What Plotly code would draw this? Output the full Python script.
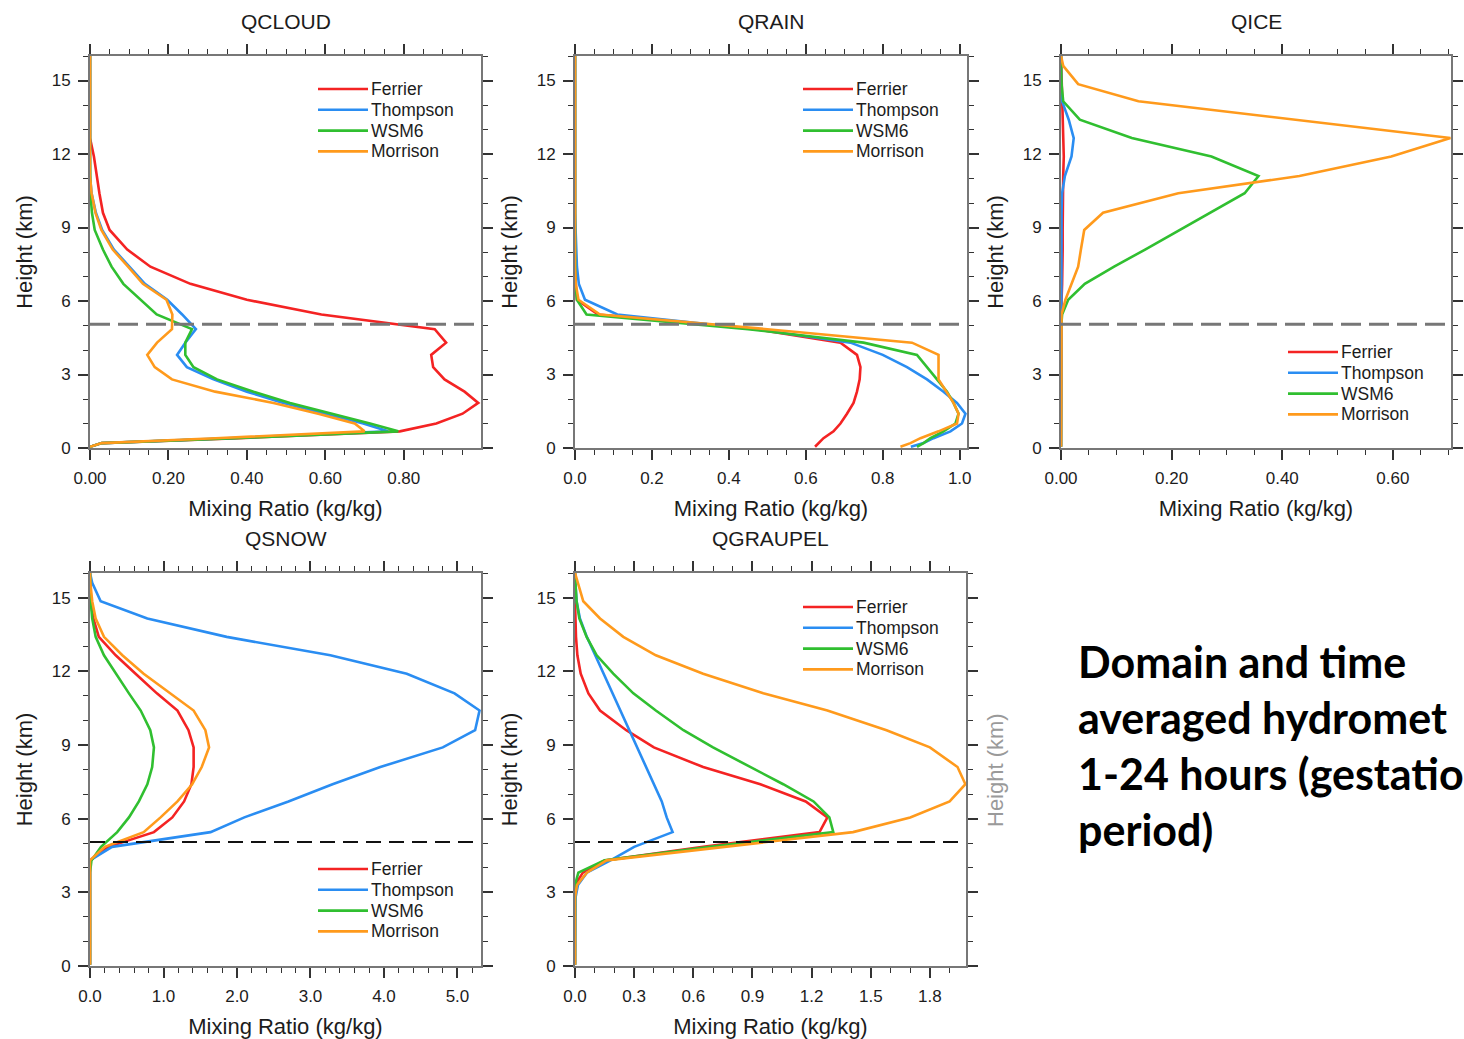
import plotly.graph_objects as go

# Canvas size in pixels
W, H = 1464, 1039

# Model levels (km) shared by all profiles
HEIGHT_KM = [0.05, 0.2, 0.4, 0.68, 1.0, 1.4, 1.84, 2.3, 2.8, 3.3, 3.8, 4.3, 4.85,
             5.45, 6.05, 6.7, 7.4, 8.1, 8.9, 9.6, 10.4, 11.1, 11.9, 12.65, 13.4,
             14.15, 14.85, 15.6, 16.0]

SCHEMES = ["Ferrier", "Thompson", "WSM6", "Morrison"]
COLORS = ["#f42323", "#2a8df2", "#30bf30", "#ff9a1c"]

# ---- QCLOUD (kg/kg) ----
QCLOUD_FERRIER = [0.0, 0.03, 0.38, 0.79, 0.883, 0.95, 0.99, 0.955, 0.904, 0.875, 0.87, 0.908, 0.879,
                  0.59, 0.40, 0.256, 0.154, 0.095, 0.05, 0.033, 0.024, 0.018, 0.01, 0, 0, 0, 0, 0, 0]
QCLOUD_THOMPSON = [0.0, 0.03, 0.35, 0.76, 0.697, 0.603, 0.493, 0.40, 0.315, 0.247, 0.222, 0.243, 0.27,
                   0.235, 0.197, 0.14, 0.10, 0.061, 0.031, 0.015, 0.004, 0, 0, 0, 0, 0, 0, 0, 0]
QCLOUD_WSM6 = [0.0, 0.03, 0.37, 0.786, 0.714, 0.62, 0.51, 0.417, 0.324, 0.264, 0.243, 0.243, 0.26,
               0.17, 0.129, 0.085, 0.055, 0.033, 0.012, 0.005, 0.001, 0, 0, 0, 0, 0, 0, 0, 0]
QCLOUD_MORRISON = [0.0, 0.03, 0.32, 0.70, 0.675, 0.582, 0.468, 0.319, 0.209, 0.165, 0.146, 0.171, 0.209,
                   0.21, 0.195, 0.135, 0.097, 0.058, 0.029, 0.014, 0.004, 0, 0, 0, 0, 0, 0, 0, 0]

# ---- QRAIN (kg/kg) ----
QRAIN_FERRIER = [0.624, 0.633, 0.646, 0.672, 0.69, 0.707, 0.724, 0.733, 0.74, 0.742, 0.733, 0.69, 0.47,
                 0.06, 0.005, 0.002, 0.001, 0, 0, 0, 0, 0, 0, 0, 0, 0, 0, 0, 0]
QRAIN_THOMPSON = [0.873, 0.906, 0.932, 0.976, 1.006, 1.015, 0.993, 0.958, 0.915, 0.863, 0.80, 0.716, 0.47,
                  0.11, 0.026, 0.01, 0.005, 0.003, 0.001, 0, 0, 0, 0, 0, 0, 0, 0, 0, 0]
QRAIN_WSM6 = [0.889, 0.906, 0.924, 0.958, 0.989, 0.997, 0.984, 0.967, 0.941, 0.915, 0.889, 0.75, 0.45,
              0.03, 0.005, 0.001, 0, 0, 0, 0, 0, 0, 0, 0, 0, 0, 0, 0, 0]
QRAIN_MORRISON = [0.846, 0.872, 0.898, 0.945, 0.993, 0.997, 0.984, 0.965, 0.945, 0.945, 0.945, 0.876, 0.50,
                  0.065, 0.009, 0.002, 0, 0, 0, 0, 0, 0, 0, 0, 0, 0, 0, 0, 0]

# ---- QICE (kg/kg) ----
QICE_FERRIER = [0] * 13 + [0, 0.001, 0.002, 0.003, 0.003, 0.003, 0.003, 0.003, 0.004, 0.005,
                           0.004, 0.003, 0.002, 0.001, 0, 0]
QICE_THOMPSON = [0] * 13 + [0, 0.001, 0.001, 0.001, 0.001, 0.001, 0.001, 0.002, 0.007, 0.019,
                            0.023, 0.014, 0.002, 0, 0, 0]
QICE_WSM6 = [0] * 13 + [0.002, 0.013, 0.043, 0.096, 0.152, 0.215, 0.27, 0.332, 0.357, 0.272,
                        0.128, 0.034, 0.004, 0.001, 0, 0]
QICE_MORRISON = [0] * 13 + [0.001, 0.008, 0.019, 0.031, 0.036, 0.042, 0.076, 0.212, 0.431, 0.597,
                            0.704, 0.42, 0.14, 0.031, 0.004, 0]

# ---- QSNOW (kg/kg) ----
QSNOW_FERRIER = [0] * 11 + [0.0, 0.25, 0.87, 1.12, 1.28, 1.38, 1.41, 1.41, 1.34, 1.19, 0.91, 0.62,
                            0.35, 0.12, 0.045, 0.01, 0, 0]
QSNOW_THOMPSON = [0] * 11 + [0.0, 0.30, 1.64, 2.1, 2.7, 3.3, 3.95, 4.8, 5.24, 5.30, 4.96, 4.31,
                             3.27, 1.86, 0.78, 0.145, 0.03, 0]
QSNOW_WSM6 = [0] * 11 + [0.02, 0.15, 0.37, 0.53, 0.665, 0.78, 0.846, 0.87, 0.82, 0.69, 0.53, 0.35,
                         0.19, 0.077, 0.03, 0.01, 0, 0]
QSNOW_MORRISON = [0] * 11 + [0.0, 0.2, 0.73, 0.96, 1.19, 1.39, 1.52, 1.62, 1.57, 1.41, 1.10, 0.73,
                             0.44, 0.19, 0.077, 0.03, 0.005, 0]

# ---- QGRAUPEL (kg/kg) ----
QGRAUPEL_FERRIER = [0] * 9 + [0.0, 0.04, 0.15, 0.65, 1.24, 1.28, 1.17, 0.94, 0.65, 0.40, 0.26, 0.127,
                              0.068, 0.029, 0.012, 0.005, 0.002, 0, 0, 0]
QGRAUPEL_THOMPSON = [0] * 8 + [0.003, 0.015, 0.06, 0.18, 0.30, 0.495, 0.465, 0.44, 0.40, 0.36, 0.315,
                               0.275, 0.23, 0.19, 0.145, 0.103, 0.06, 0.025, 0.008, 0.002, 0]
QGRAUPEL_WSM6 = [0] * 9 + [0.0, 0.017, 0.15, 0.685, 1.31, 1.29, 1.21, 1.056, 0.887, 0.70, 0.55, 0.41,
                           0.296, 0.194, 0.11, 0.059, 0.022, 0.008, 0.002, 0]
QGRAUPEL_MORRISON = [0] * 9 + [0.01, 0.06, 0.16, 0.75, 1.41, 1.70, 1.90, 1.98, 1.94, 1.80, 1.58, 1.28,
                               0.955, 0.65, 0.41, 0.245, 0.127, 0.042, 0.012, 0]

FREEZING_LEVEL_KM = 5.05

# Panel layout: pixel box (left, top, right, bottom), x range, ticks, legend anchor
PANELS = [
    dict(title="QCLOUD", box=(90, 56, 481, 448), xmax=0.997, dtick=0.2, minor=0.05, fmt=".2f",
         data=[QCLOUD_FERRIER, QCLOUD_THOMPSON, QCLOUD_WSM6, QCLOUD_MORRISON],
         legend=(318, 89), dash_color="#777777", dash_width=3, dash="20px,8px"),
    dict(title="QRAIN", box=(575, 56, 967, 448), xmax=1.019, dtick=0.2, minor=0.05, fmt=".1f",
         data=[QRAIN_FERRIER, QRAIN_THOMPSON, QRAIN_WSM6, QRAIN_MORRISON],
         legend=(803, 89), dash_color="#777777", dash_width=3, dash="20px,8px"),
    dict(title="QICE", box=(1061, 56, 1451, 448), xmax=0.705, dtick=0.2, minor=0.05, fmt=".2f",
         data=[QICE_FERRIER, QICE_THOMPSON, QICE_WSM6, QICE_MORRISON],
         legend=(1288, 352), dash_color="#777777", dash_width=3, dash="20px,8px"),
    dict(title="QSNOW", box=(90, 573, 481, 966), xmax=5.32, dtick=1.0, minor=0.2, fmt=".1f",
         data=[QSNOW_FERRIER, QSNOW_THOMPSON, QSNOW_WSM6, QSNOW_MORRISON],
         legend=(318, 869), dash_color="#111111", dash_width=2, dash="15px,8px"),
    dict(title="QGRAUPEL", box=(575, 573, 966, 966), xmax=1.983, dtick=0.3, minor=0.1, fmt=".1f",
         data=[QGRAUPEL_FERRIER, QGRAUPEL_THOMPSON, QGRAUPEL_WSM6, QGRAUPEL_MORRISON],
         legend=(803, 607), dash_color="#111111", dash_width=2, dash="15px,8px"),
]

NOTE_LINES = ["Domain and time", "averaged hydromet", "1-24 hours (gestatio", "period)"]


def fx(px):
    return px / W


def fy(py):
    return 1 - py / H


FONT = "Liberation Sans, Arial, Helvetica, sans-serif"
TEXT = "#1c1c1c"

fig = go.Figure()
layout = dict(
    template="none",
    width=W, height=H, margin=dict(l=0, r=0, t=0, b=0, autoexpand=False),
    paper_bgcolor="white", plot_bgcolor="white", showlegend=False,
    font=dict(family=FONT, color=TEXT),
)
shapes, annotations = [], []

for i, p in enumerate(PANELS, start=1):
    sfx = "" if i == 1 else str(i)
    l, t, r, b = p["box"]
    axis_common = dict(
        automargin=False,
        showline=True, linecolor="#777777", linewidth=2, mirror="allticks",
        ticks="outside", ticklen=10, tickwidth=1.5, tickcolor="#333333",
        showgrid=False, zeroline=False, layer="below traces",
        tickfont=dict(family=FONT, size=17, color=TEXT),
    )
    layout["xaxis" + sfx] = dict(
        axis_common, domain=[fx(l), fx(r)], anchor="y" + sfx, range=[0, p["xmax"]],
        tick0=0, dtick=p["dtick"], tickformat=p["fmt"], ticklabelstandoff=4,
        minor=dict(ticks="outside", ticklen=5, dtick=p["minor"], tick0=0, tickcolor="#333333", tickwidth=1.2),
        title=dict(text="Mixing Ratio (kg/kg)", font=dict(family=FONT, size=22, color=TEXT), standoff=13),
    )
    layout["yaxis" + sfx] = dict(
        axis_common, domain=[fy(b), fy(t)], anchor="x" + sfx, range=[0, 16],
        tick0=0, dtick=3, ticklabelstandoff=4,
        minor=dict(ticks="outside", ticklen=5, dtick=1, tick0=0, tickcolor="#333333", tickwidth=1.2),
        title=dict(text="Height (km)", font=dict(family=FONT, size=22, color=TEXT), standoff=13),
    )

    for name, color, values in zip(SCHEMES, COLORS, p["data"]):
        fig.add_trace(go.Scatter(
            x=values, y=HEIGHT_KM, mode="lines", name=name,
            line=dict(color=color, width=2.6),
            xaxis="x" + sfx, yaxis="y" + sfx,
        ))

    # freezing level
    shapes.append(dict(
        type="line", xref=f"x{sfx} domain", yref="y" + sfx, x0=0, x1=1,
        y0=FREEZING_LEVEL_KM, y1=FREEZING_LEVEL_KM,
        line=dict(color=p["dash_color"], width=p["dash_width"], dash=p["dash"]),
    ))

    # panel title
    annotations.append(dict(
        text=p["title"], xref="paper", yref="paper", x=fx((l + r) / 2),
        y=fy(t - 35), xanchor="center", yanchor="middle", showarrow=False,
        font=dict(family=FONT, size=21, color=TEXT),
    ))

    # legend
    lx, ly = p["legend"]
    for k, (name, color) in enumerate(zip(SCHEMES, COLORS)):
        yy = ly + k * 20.8
        shapes.append(dict(
            type="line", xref="paper", yref="paper", x0=fx(lx), x1=fx(lx + 50),
            y0=fy(yy), y1=fy(yy), line=dict(color=color, width=2.6),
        ))
        annotations.append(dict(
            text=name, xref="paper", yref="paper", x=fx(lx + 51), y=fy(yy),
            xanchor="left", yanchor="middle", showarrow=False,
            font=dict(family=FONT, size=17.5, color=TEXT),
        ))

# faint axis label of the hidden sixth panel
annotations.append(dict(
    text="Height (km)", xref="paper", yref="paper", x=fx(995), y=fy(770),
    textangle=-90, xanchor="center", yanchor="middle", showarrow=False,
    font=dict(family=FONT, size=22, color="#9a9a9a"),
))

# descriptive note
annotations.append(dict(
    text="<br>".join(NOTE_LINES), xref="paper", yref="paper", x=fx(1076), y=fy(745),
    xanchor="left", yanchor="middle", align="left", showarrow=False,
    font=dict(family="Lato, Carlito, Calibri, sans-serif", size=43, weight=700, color="#000000"),
))

layout["shapes"] = shapes
layout["annotations"] = annotations
fig.update_layout(**layout)
fig.write_html("out.html")
